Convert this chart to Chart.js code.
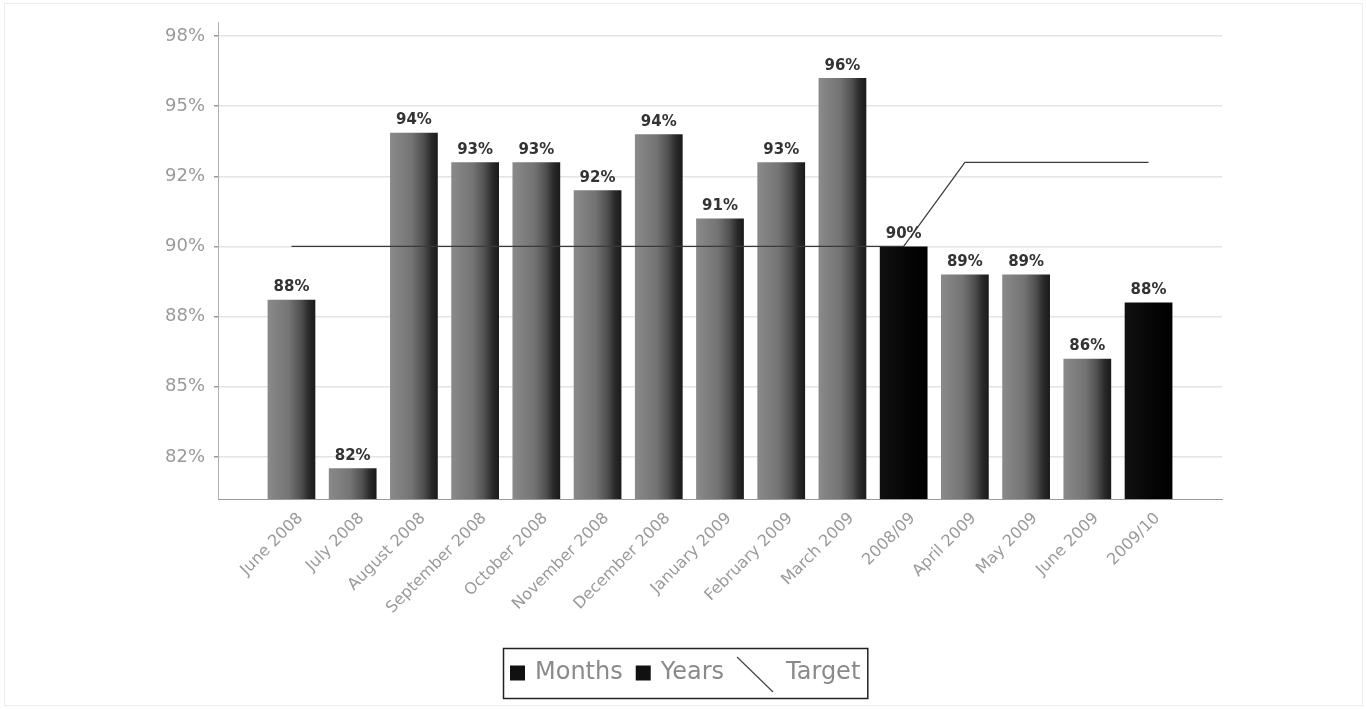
<!DOCTYPE html>
<html>
<head>
<meta charset="utf-8">
<script src="https://cdn.jsdelivr.net/npm/chart.js@4.4.1/dist/chart.umd.min.js"></script>
<style>
html,body{margin:0;padding:0;background:#fff;}
#wrap{width:1366px;height:709px;position:relative;}
</style>
</head>
<body>
<div id="wrap"><canvas id="c" width="1366" height="709"></canvas></div>
<script>
// ---- data ----
const categories = ["June 2008","July 2008","August 2008","September 2008","October 2008","November 2008","December 2008","January 2009","February 2009","March 2009","2008/09","April 2009","May 2009","June 2009","2009/10"];
const monthsValues = [88.1, 82.1, 94.05, 93.0, 93.0, 92.0, 94.0, 91.0, 93.0, 96.0, null, 89.0, 89.0, 86.0, null];
const yearsValues  = [null, null, null, null, null, null, null, null, null, null, 90.0, null, null, null, 88.0];
const targetValues = [90, 90, 90, 90, 90, 90, 90, 90, 90, 90, 90, 93, 93, 93, 93];
const yTickValues = [82.5, 85, 87.5, 90, 92.5, 95, 97.5];
const yTickLabels = ["82%", "85%", "88%", "90%", "92%", "95%", "98%"];
const seriesNames = ["Months", "Years", "Target"];

const toPoints = arr => arr.map((v, i) => ({x: i, y: v}));
const BAR_PCT = 0.78;

function barFill(ctx, stops) {
  const chart = ctx.chart;
  const xs = chart.scales && chart.scales.x;
  if (!xs || ctx.type !== 'data' || !isFinite(xs.getPixelForValue(0))) return stops[0][1];
  const cx = xs.getPixelForValue(ctx.dataIndex);
  const w = (xs.getPixelForValue(1) - xs.getPixelForValue(0)) * BAR_PCT;
  const g = chart.ctx.createLinearGradient(cx - w / 2, 0, cx + w / 2, 0);
  stops.forEach(s => g.addColorStop(s[0], s[1]));
  return g;
}
const monthStops = [[0, '#8a8a8a'], [0.45, '#747474'], [0.7, '#505050'], [0.86, '#2a2a2a'], [1, '#1a1a1a']];
const yearStops = [[0, '#111111'], [0.6, '#050505'], [1, '#000000']];

const labelPlugin = {
  id: 'barLabels',
  afterDatasetsDraw(chart) {
    const ctx = chart.ctx;
    ctx.save();
    ctx.font = 'bold 15px "DejaVu Sans"';
    ctx.fillStyle = '#333';
    ctx.textAlign = 'center';
    ctx.textBaseline = 'bottom';
    [0, 1].forEach(di => {
      const meta = chart.getDatasetMeta(di);
      const data = chart.data.datasets[di].data;
      meta.data.forEach((el, i) => {
        const v = data[i].y;
        if (v === null || v === undefined) return;
        ctx.fillText(Math.round(v) + '%', el.x, el.y - 5);
      });
    });
    ctx.restore();
  }
};

const legendPlugin = {
  id: 'boxLegend',
  afterDraw(chart) {
    const ctx = chart.ctx;
    ctx.save();
    // faint outer frame
    ctx.strokeStyle = '#ececec';
    ctx.lineWidth = 1;
    ctx.strokeRect(4.5, 3.5, 1358, 702);

    ctx.font = '24px "DejaVu Sans"';
    const sq = 15, gapSqText = 10, gapItems = 13, diagW = 36;
    const w0 = ctx.measureText(seriesNames[0]).width;
    const w1 = ctx.measureText(seriesNames[1]).width;
    const w2 = ctx.measureText(seriesNames[2]).width;
    const padX = 7;
    const total = padX + sq + gapSqText + w0 + gapItems + sq + gapSqText + w1 + gapItems + diagW + gapItems + w2 + padX;
    const left = Math.round(685 - total / 2);
    const top = 648, h = 50, cy = top + h / 2;
    ctx.strokeStyle = '#222';
    ctx.lineWidth = 1.5;
    ctx.strokeRect(left + 0.5, top + 0.5, total, h);
    let x = left + padX;
    ctx.fillStyle = '#111';
    ctx.fillRect(x, cy - sq / 2, sq, sq);
    x += sq + gapSqText;
    ctx.fillStyle = '#8a8a8a';
    ctx.textBaseline = 'middle';
    ctx.textAlign = 'left';
    ctx.fillText(seriesNames[0], x, cy);
    x += w0 + gapItems;
    ctx.fillStyle = '#111';
    ctx.fillRect(x, cy - sq / 2, sq, sq);
    x += sq + gapSqText;
    ctx.fillStyle = '#8a8a8a';
    ctx.fillText(seriesNames[1], x, cy);
    x += w1 + gapItems;
    ctx.strokeStyle = '#444';
    ctx.lineWidth = 1.2;
    ctx.beginPath();
    ctx.moveTo(x, cy - 16);
    ctx.lineTo(x + diagW, cy + 19);
    ctx.stroke();
    x += diagW + gapItems;
    ctx.fillStyle = '#8a8a8a';
    ctx.fillText(seriesNames[2], x, cy);
    ctx.restore();
  }
};

new Chart(document.getElementById('c'), {
  data: {
    datasets: [
      {
        type: 'bar', label: seriesNames[0], data: toPoints(monthsValues),
        backgroundColor: ctx => barFill(ctx, monthStops),
        borderWidth: 0, grouped: false, categoryPercentage: 1, barPercentage: BAR_PCT, order: 2
      },
      {
        type: 'bar', label: seriesNames[1], data: toPoints(yearsValues),
        backgroundColor: ctx => barFill(ctx, yearStops),
        borderWidth: 0, grouped: false, categoryPercentage: 1, barPercentage: BAR_PCT, order: 1
      },
      {
        type: 'line', label: seriesNames[2], data: toPoints(targetValues),
        borderColor: '#3a3a3a', borderWidth: 1.2, pointRadius: 0, tension: 0, fill: false, order: 0
      }
    ]
  },
  options: {
    responsive: false,
    animation: false,
    events: [],
    layout: { padding: { left: 0, top: 22, right: 144, bottom: 0 } },
    plugins: { legend: { display: false }, tooltip: { enabled: false } },
    scales: {
      x: {
        type: 'linear', min: -1.2, max: 15.2, offset: false,
        afterBuildTicks: s => { s.ticks = categories.map((c, i) => ({ value: i })); },
        afterFit: s => { s.height = 210; },
        grid: { display: false, drawTicks: false, offset: false },
        border: { display: true, color: '#9a9a9a', width: 1 },
        ticks: {
          autoSkip: false, maxRotation: 45, minRotation: 45, padding: 10, labelOffset: 9,
          color: '#9a9a9a', font: { family: 'DejaVu Sans', size: 16 },
          callback: v => categories[v]
        }
      },
      y: {
        type: 'linear', min: 81, max: 98,
        afterBuildTicks: s => { s.ticks = yTickValues.map(v => ({ value: v })); },
        afterFit: s => { s.width = 218; },
        grid: { color: '#e4e4e4', tickColor: '#9a9a9a', tickLength: 4, lineWidth: 1.5 },
        border: { display: true, color: '#b0b0b0' },
        ticks: {
          padding: 9, color: '#9a9a9a', font: { family: 'DejaVu Sans', size: 18 },
          callback: (v, i) => yTickLabels[i]
        }
      }
    }
  },
  plugins: [labelPlugin, legendPlugin]
});
</script>
</body>
</html>
